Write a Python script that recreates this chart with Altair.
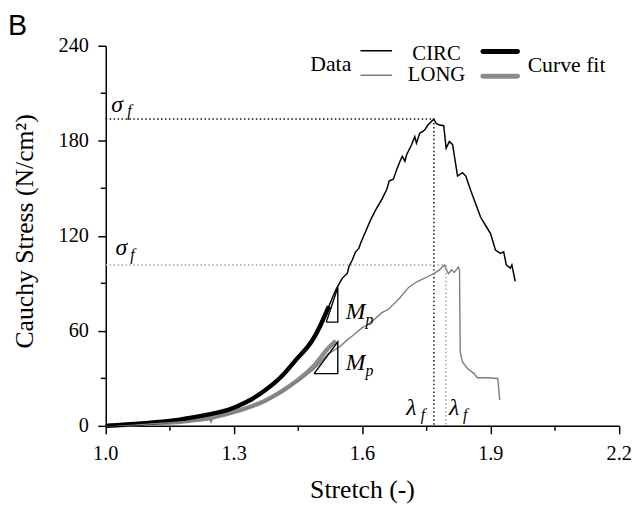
import altair as alt
import pandas as pd

# ---------------- data ----------------
circ_x = [1.000, 1.040, 1.080, 1.120, 1.160, 1.200, 1.240, 1.280, 1.320, 1.360, 1.400,
          1.440, 1.470, 1.500, 1.520, 1.531, 1.538, 1.547, 1.5532, 1.5647, 1.5684, 1.5762,
          1.5838, 1.5915, 1.5954, 1.6069, 1.6185, 1.6300, 1.6455, 1.6570, 1.6623, 1.6722,
          1.6801, 1.6877, 1.6930, 1.6992, 1.7032, 1.7147, 1.7223, 1.7262, 1.7338, 1.7454,
          1.7530, 1.7668, 1.7724, 1.7800, 1.7899, 1.7955, 1.8031, 1.8107, 1.8222, 1.8338,
          1.8416, 1.8532, 1.8647, 1.8762, 1.8878, 1.8993, 1.9108, 1.9224, 1.9300, 1.9362,
          1.9455, 1.9492, 1.9570]
circ_y = [0.0, 0.9, 1.6, 2.6, 3.8, 5.2, 7.1, 9.8, 13.4, 20.2, 28.6,
          40.2, 50.0, 62.5, 74.5, 81.7, 86.0, 90.4, 93.3, 96.4, 100.6, 104.7,
          109.9, 112.0, 115.1, 122.4, 129.7, 135.9, 143.2, 149.4, 154.6, 155.7,
          161.9, 167.1, 170.2, 167.1, 171.2, 177.5, 182.6, 178.5, 184.7, 186.8,
          189.9, 193.7, 190.9, 189.9, 189.5, 175.4, 179.5, 177.5, 157.7, 159.8,
          157.7, 148.4, 140.1, 131.7, 126.5, 121.4, 111.0, 108.9, 109.9, 101.6,
          99.6, 101.6, 91.2]

long_x = [1.000, 1.050, 1.100, 1.150, 1.200, 1.243, 1.246, 1.250, 1.290, 1.330, 1.370,
          1.410, 1.445, 1.485, 1.500, 1.520, 1.538, 1.5492, 1.5608, 1.5799, 1.5993,
          1.6108, 1.6300, 1.6455, 1.6607, 1.6722, 1.6877, 1.7068, 1.7223, 1.7378,
          1.7530, 1.7685, 1.7800, 1.7915, 1.8008, 1.8084, 1.8146, 1.8238, 1.8268,
          1.8285, 1.8338, 1.8453, 1.8608, 1.8684, 1.8915, 1.9162, 1.9208]
long_y = [0.0, 0.5, 1.2, 2.0, 3.0, 4.6, 2.4, 4.9, 7.6, 11.0, 15.2,
          21.0, 27.6, 35.5, 39.5, 45.5, 48.5, 50.5, 53.5, 57.5, 62.0,
          63.5, 67.8, 71.5, 73.6, 76.7, 80.9, 87.1, 90.2, 92.3,
          94.3, 96.4, 98.5, 101.6, 96.0, 98.5, 96.8, 100.2, 98.5,
          46.6, 40.3, 36.2, 33.0, 30.4, 30.4, 29.9, 16.4]

circ_fit_x = [1.00, 1.05, 1.10, 1.15, 1.20, 1.25, 1.29, 1.33, 1.37, 1.41, 1.445, 1.485, 1.503, 1.5215]
circ_fit_y = [0.0, 0.9, 1.9, 3.1, 5.2, 7.7, 10.5, 15.2, 22.0, 31.0, 41.8, 54.9, 64.2, 75.4]

long_fit_x = [1.00, 1.05, 1.10, 1.14, 1.20, 1.25, 1.29, 1.33, 1.37, 1.41, 1.445, 1.485, 1.52, 1.538]
long_fit_y = [0.0, 0.7, 1.4, 1.9, 3.4, 5.3, 8.0, 11.3, 15.6, 21.6, 28.1, 37.4, 49.0, 53.6]

# failure points
circ_fail = (1.767, 193.7)
long_fail_x, long_fail_y = 1.795, 101.6

# slope triangles (M_p)
tri_x = [1.5154, 1.5423, 1.5423, 1.5154, 1.4869, 1.5423, 1.5423, 1.4869]
tri_y = [65.5, 65.5, 87.3, 65.5, 33.0, 33.0, 53.0, 33.0]
tri_id = ["u", "u", "u", "u", "l", "l", "l", "l"]

x_ticks = [1.0, 1.3, 1.6, 1.9, 2.2]
x_tick_labels = ["1.0", "1.3", "1.6", "1.9", "2.2"]
x_minor = [1.15, 1.45, 1.75, 2.05]
y_ticks = [0, 60, 120, 180, 240]
y_tick_labels = ["0", "60", "120", "180", "240"]
y_minor = [30, 90, 150, 210]
x_title = "Stretch (-)"
y_title = "Cauchy Stress (N/cm²)"

FONT = "Liberation Serif"

xscale = alt.Scale(domain=[1.0, 2.2], nice=False, zero=False)
yscale = alt.Scale(domain=[0, 240], nice=False)
xaxis = alt.Axis(values=x_ticks, labels=False, title="", grid=False, tickSize=8,
                 domainColor="#000000", domainWidth=1.5, tickColor="#000000", tickWidth=1.5)
yaxis = alt.Axis(values=y_ticks, labels=False, title="", grid=False, tickSize=8,
                 domainColor="#000000", domainWidth=1.5, tickColor="#000000", tickWidth=1.5)


def X(f):
    return alt.X(f, type="quantitative", scale=xscale, axis=xaxis)


def Y(f):
    return alt.Y(f, type="quantitative", scale=yscale, axis=yaxis)


def line_df(xs, ys):
    return pd.DataFrame({"x": xs, "y": ys, "i": list(range(len(xs)))})


circ = line_df(circ_x, circ_y)
long_ = line_df(long_x, long_y)
cfit = line_df(circ_fit_x, circ_fit_y)
lfit = line_df(long_fit_x, long_fit_y)

# dotted guide lines
guides_k = pd.DataFrame({
    "x": [1.0, circ_fail[0]], "x2": [circ_fail[0], circ_fail[0]],
    "y": [circ_fail[1], circ_fail[1]], "y2": [circ_fail[1], 0],
})
guides_g = pd.DataFrame({
    "x": [1.0, long_fail_x], "x2": [long_fail_x - 0.003, long_fail_x],
    "y": [long_fail_y, long_fail_y], "y2": [long_fail_y, 0],
})
guide_k_layer = alt.Chart(guides_k).mark_rule(strokeDash=[1.5, 2.5], strokeWidth=1.5, color="#111111").encode(
    x=X("x"), x2="x2", y=Y("y"), y2="y2")
guide_g_layer = alt.Chart(guides_g).mark_rule(strokeDash=[1.5, 2.5], strokeWidth=1.4, color="#9a9a9a").encode(
    x=X("x"), x2="x2", y=Y("y"), y2="y2")

lfit_layer = alt.Chart(lfit).mark_line(color="#8c8c8c", strokeWidth=4.5, interpolate="monotone").encode(
    x=X("x"), y=Y("y"), order="i:Q")
cfit_layer = alt.Chart(cfit).mark_line(color="#000000", strokeWidth=4.5, interpolate="monotone").encode(
    x=X("x"), y=Y("y"), order="i:Q")
long_layer = alt.Chart(long_).mark_line(color="#7d7d7d", strokeWidth=1.4).encode(
    x=X("x"), y=Y("y"), order="i:Q")
circ_layer = alt.Chart(circ).mark_line(color="#000000", strokeWidth=1.5).encode(
    x=X("x"), y=Y("y"), order="i:Q")

tri = pd.DataFrame({"x": tri_x, "y": tri_y, "t": tri_id, "i": list(range(len(tri_x)))})
tri_layer = alt.Chart(tri).mark_line(color="#000000", strokeWidth=1.4).encode(
    x=X("x"), y=Y("y"), detail="t:N", order="i:Q")

# italic symbols
sym = pd.DataFrame({
    "x": [1.0130, 1.0225, 1.5608, 1.5608, 1.7025, 1.8025],
    "y": [198.2, 107.8, 67.3, 35.1, 7.0, 7.0],
    "t": ["σ", "σ", "M", "M", "λ", "λ"],
})
sym_layer = alt.Chart(sym).mark_text(font=FONT, fontStyle="italic", fontSize=24, align="left",
                                     baseline="alphabetic", color="#000000").encode(
    x=X("x"), y=Y("y"), text="t:N")
sub = pd.DataFrame({
    "x": [1.0500, 1.0570, 1.6070, 1.6070, 1.7360, 1.8350],
    "y": [195.5, 105.0, 63.8, 31.6, 3.6, 3.6],
    "t": ["f", "f", "p", "p", "f", "f"],
})
sub_layer = alt.Chart(sub).mark_text(font=FONT, fontStyle="italic", fontSize=16, align="left",
                                     baseline="alphabetic", color="#000000").encode(
    x=X("x"), y=Y("y"), text="t:N")

# legend
leg_thin = pd.DataFrame({"x": [1.5954, 1.5954], "x2": [1.6692, 1.6692], "y": [236.9, 221.3],
                         "c": ["#000000", "#7d7d7d"]})
leg_thick = pd.DataFrame({"x": [1.8815, 1.8815], "x2": [1.9623, 1.9623], "y": [236.3, 220.7],
                          "c": ["#000000", "#8c8c8c"]})
leg_thin_layer = alt.Chart(leg_thin).mark_rule(strokeWidth=1.5).encode(
    x=X("x"), x2="x2", y=Y("y"), color=alt.Color("c:N", scale=None))
leg_thick_layer = alt.Chart(leg_thick).mark_rule(strokeWidth=5, strokeCap="round").encode(
    x=X("x"), x2="x2", y=Y("y"), color=alt.Color("c:N", scale=None))

leg_left = pd.DataFrame({"x": [1.478, 1.986], "y": [228.3, 227.5], "t": ["Data", "Curve fit"]})
leg_center = pd.DataFrame({"x": [1.7731, 1.7731], "y": [235.0, 221.7], "t": ["CIRC", "LONG"]})
leg_txt_left = alt.Chart(leg_left).mark_text(
    font=FONT, fontSize=22, align="left", baseline="middle", color="#000000").encode(
    x=X("x"), y=Y("y"), text="t:N")
leg_txt_center = alt.Chart(leg_center).mark_text(
    font=FONT, fontSize=21, align="center", baseline="middle", color="#000000").encode(
    x=X("x"), y=Y("y"), text="t:N")

panel = pd.DataFrame({"x": [0.7715], "y": [246.9], "t": ["B"]})
panel_layer = alt.Chart(panel).mark_text(font="Liberation Sans", fontSize=29, align="left",
                                         baseline="alphabetic", color="#000000").encode(
    x=X("x"), y=Y("y"), text="t:N")

# tick labels and axis titles
xl = pd.DataFrame({"x": x_ticks, "t": x_tick_labels, "y": [-21.8] * len(x_ticks)})
xl_layer = alt.Chart(xl).mark_text(font=FONT, fontSize=20.5, align="center", baseline="alphabetic",
                                   color="#000000").encode(x=X("x"), y=Y("y"), text="t:N")
yl = pd.DataFrame({"y": y_ticks, "t": y_tick_labels, "x": [0.9608] * len(y_ticks)})
yl_layer = alt.Chart(yl).mark_text(font=FONT, fontSize=20.5, align="right", baseline="middle",
                                   color="#000000").encode(x=X("x"), y=Y("y"), text="t:N")
xt = pd.DataFrame({"x": [1.6], "y": [-45.5], "t": [x_title]})
xt_layer = alt.Chart(xt).mark_text(font=FONT, fontSize=26, align="center", baseline="alphabetic",
                                   color="#000000").encode(x=X("x"), y=Y("y"), text="t:N")
yt = pd.DataFrame({"x": [0.8292], "y": [122.8], "t": [y_title]})
yt_layer = alt.Chart(yt).mark_text(font=FONT, fontSize=26, align="center", baseline="alphabetic",
                                   angle=270, color="#000000").encode(x=X("x"), y=Y("y"), text="t:N")

# minor ticks
xm = pd.DataFrame({"x": x_minor})
xm_layer = alt.Chart(xm).mark_rule(color="#000000", strokeWidth=1.5).encode(
    x=X("x"), y=alt.value(385), y2=alt.value(390))
ym = pd.DataFrame({"y": y_minor})
ym_layer = alt.Chart(ym).mark_rule(color="#000000", strokeWidth=1.5).encode(
    y=Y("y"), x=alt.value(0), x2=alt.value(-5))

chart = alt.layer(
    guide_k_layer, guide_g_layer, lfit_layer, cfit_layer, long_layer, circ_layer, tri_layer,
    sym_layer, sub_layer, leg_thin_layer, leg_thick_layer, leg_txt_left, leg_txt_center,
    panel_layer, xl_layer, yl_layer, xt_layer, yt_layer, xm_layer, ym_layer,
).properties(
    width=520, height=385,
    autosize=alt.AutoSizeParams(type="none"),
    padding={"left": 99, "top": 35, "right": 15, "bottom": 82},
    background="#ffffff",
).configure_view(
    stroke=None,
)

chart.save("out.html", embed_options={"renderer": "svg", "actions": False})
